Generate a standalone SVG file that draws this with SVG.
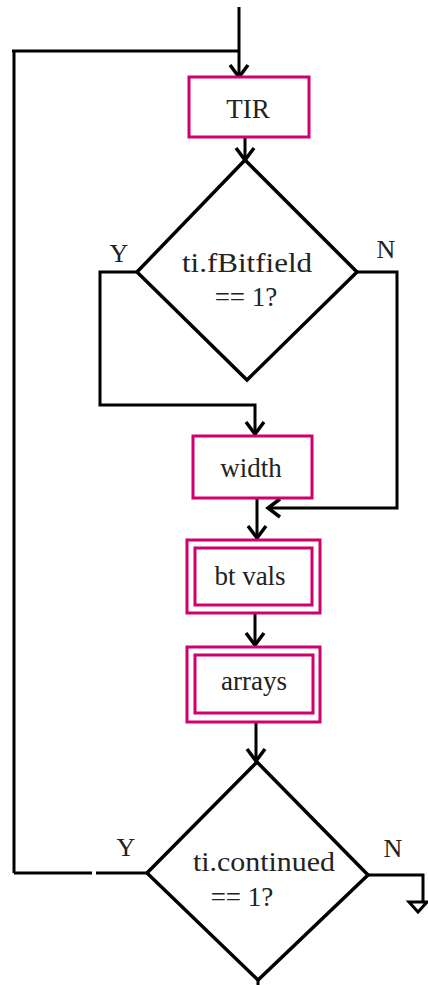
<svg xmlns="http://www.w3.org/2000/svg" width="428" height="985" viewBox="0 0 428 985">
<style>
.ln{fill:none;stroke:#000;stroke-width:3;stroke-linejoin:miter}
.bx{fill:#fff;stroke:#d0006f;stroke-width:3}
.dm{fill:#fff;stroke:#000;stroke-width:3.5;stroke-linejoin:miter}
.t{font-family:"Liberation Serif","Times New Roman",serif;font-size:27px;fill:#222;text-anchor:middle}
.lb{font-family:"Liberation Serif","Times New Roman",serif;font-size:26px;fill:#222;text-anchor:middle}
</style>
<defs>
<marker id="arr" markerUnits="userSpaceOnUse" markerWidth="30" markerHeight="30" viewBox="-15 -15 30 30" refX="0" refY="0" orient="auto" overflow="visible">
<path d="M-12,-9 L0,0 L-12,9" fill="none" stroke="#000" stroke-width="3.5"/>
</marker>
</defs>
<g id="connectors">
<path class="ln" d="M239,7 V77" marker-end="url(#arr)"/>
<path class="ln" d="M12,51 H239"/>
<path class="ln" d="M14,51 V873"/>
<path class="ln" d="M245,137 V160" marker-end="url(#arr)"/>
<path class="ln" d="M137,272 H100 V405 H255 V434" marker-end="url(#arr)"/>
<path class="ln" d="M357,272 H397 V508 H268" marker-end="url(#arr)"/>
<path class="ln" d="M257,498 V538" marker-end="url(#arr)"/>
<path class="ln" d="M255,613 V645" marker-end="url(#arr)"/>
<path class="ln" d="M256,722 V761" marker-end="url(#arr)"/>
<path class="ln" d="M147,873 H96 M92,873 H14"/>
<path class="ln" d="M368,875 H423 V902"/>
<polygon points="409,902 427,902 418,912" fill="#fff" stroke="#000" stroke-width="3"/>
<path class="ln" d="M258,980 V985"/>
</g>
<g id="tir">
<rect class="bx" x="189" y="77" width="120" height="60"/>
<text class="t" x="248" y="118">TIR</text>
</g>
<g id="dec1">
<polygon class="dm" points="245,160 357,272 247,380 137,272"/>
<text class="t" x="247" y="272" textLength="130" lengthAdjust="spacingAndGlyphs">ti.fBitfield</text>
<text class="t" x="246" y="306">== 1?</text>
<text class="lb" x="119" y="262">Y</text>
<text class="lb" x="386" y="258">N</text>
</g>
<g id="width">
<rect class="bx" x="193" y="436" width="119" height="62"/>
<text class="t" x="251" y="477">width</text>
</g>
<g id="btvals">
<rect class="bx" x="187" y="540" width="133" height="73"/>
<rect class="bx" x="195" y="548" width="117" height="57"/>
<text class="t" x="250" y="585">bt vals</text>
</g>
<g id="arrays">
<rect class="bx" x="187" y="647" width="133" height="75"/>
<rect class="bx" x="195" y="655" width="118" height="58"/>
<text class="t" x="254" y="690">arrays</text>
</g>
<g id="dec2">
<polygon class="dm" points="257,762 368,875 258,980 147,873"/>
<text class="t" x="264" y="871" textLength="142" lengthAdjust="spacingAndGlyphs">ti.continued</text>
<text class="t" x="242" y="906">== 1?</text>
<text class="lb" x="126" y="856">Y</text>
<text class="lb" x="393" y="857">N</text>
</g>
</svg>
